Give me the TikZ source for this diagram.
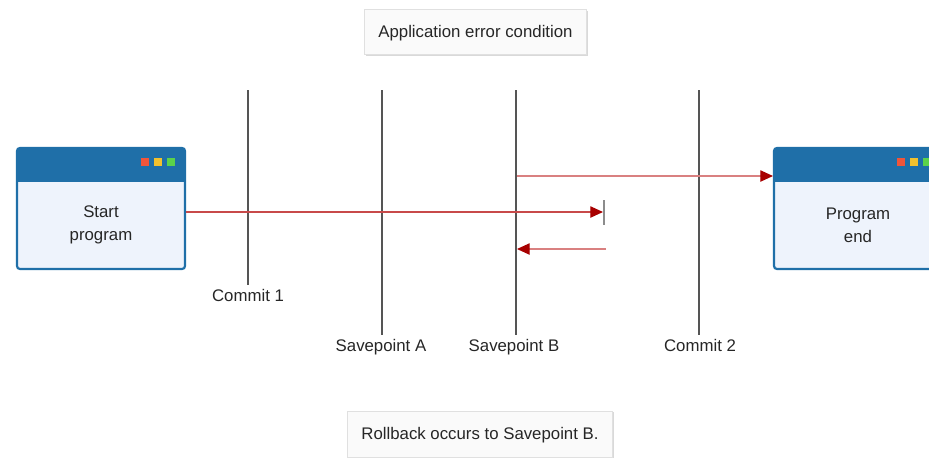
\documentclass[tikz,border=0pt]{standalone}
\usepackage{fontspec}
\setmainfont{Liberation Sans}
\usetikzlibrary{arrows.meta,shadows}
\definecolor{winblue}{HTML}{1F6FA8}
\definecolor{winbody}{HTML}{EEF3FC}
\definecolor{dotred}{HTML}{F0553A}
\definecolor{dotyellow}{HTML}{F2C12E}
\definecolor{dotgreen}{HTML}{5BD24B}
\definecolor{flowred}{HTML}{C84A4A}
\definecolor{headred}{HTML}{A80000}
\definecolor{lanegray}{HTML}{555555}
\tikzset{
  lbl/.style={font=\fontsize{12.6}{15}\selectfont, text=black!85, inner sep=0pt},
  tag/.style={lbl, text height=11.5pt, text depth=2.6pt},
  lane/.style={draw=lanegray, line width=1.35pt},
  flow/.style={draw=flowred, line width=0.9pt, -{Triangle[length=9.5pt,width=8.5pt,fill=headred,color=headred]}},
  note/.style={draw=black!12, fill=black!2, line width=0.6pt, drop shadow={shadow xshift=1.1pt, shadow yshift=-1.1pt, fill=black!25, opacity=0.6}},
  dot/.style={minimum size=5.6pt, inner sep=0pt, draw=none}
}
\begin{document}
\begin{tikzpicture}[x=0.75pt,y=-0.75pt]
\useasboundingbox (0,0) rectangle (929,458);

% application windows: blue title bar over a pale body
\newcommand{\appwin}[2]{%
  \fill[winbody, rounded corners=2.25pt] (#1,148) rectangle (#2,269);
  \fill[winblue, rounded corners=2.25pt] (#1,148) rectangle (#2,170);
  \fill[winblue] (#1,160) rectangle (#2,182);
  \draw[winblue, line width=1.65pt, rounded corners=2.25pt] (#1,148) rectangle (#2,269);
}
\appwin{17}{185}
\appwin{774}{945}
\node[dot, fill=dotred] (sr) at (145,162) {};
\node[dot, fill=dotyellow] (sy) at (158,162) {};
\node[dot, fill=dotgreen] (sg) at (171,162) {};
\node[dot, fill=dotred] (er) at (901,162) {};
\node[dot, fill=dotyellow] (ey) at (914,162) {};
\node[dot, fill=dotgreen] (eg) at (927,162) {};
\node[lbl, align=center] (start) at (101,225) {Start\\[2pt]program};
\node[lbl, align=center] (end) at (858,225) {Program\\[2pt]end};
\coordinate (startR) at (186,212);
\coordinate (endL) at (773,176);

% commit and savepoint lanes
\coordinate (c1t) at (248,90);  \coordinate (c1b) at (248,285);
\coordinate (sat) at (382,90);  \coordinate (sab) at (382,335);
\coordinate (sbt) at (516,90);  \coordinate (sbb) at (516,335);
\coordinate (c2t) at (699,90);  \coordinate (c2b) at (699,335);
\draw[lane] (c1t) -- (c1b);
\draw[lane] (sat) -- (sab);
\draw[lane] (sbt) -- (sbb);
\draw[lane] (c2t) -- (c2b);
\node[tag] (c1) at (248,296) {Commit 1};
\node[tag] (sa) at (381,346) {Savepoint A};
\node[tag] (sb) at (514,346) {Savepoint B};
\node[tag] (c2) at (700,346) {Commit 2};

% error point marker
\coordinate (errt) at (604,200);
\coordinate (errb) at (604,225);
\coordinate (err) at (603,212);
\draw[draw=black!45, line width=1.05pt] (errt) -- (errb);

% flows
\draw[flow] (startR) -- (err);
\coordinate (sbU) at (517,176);
\draw[flow, draw=flowred!70] (sbU) -- (endL);
\coordinate (rbS) at (606,249);
\coordinate (rbE) at (517,249);
\draw[flow, draw=flowred!70] (rbS) -- (rbE);

% notes
\node[note, minimum width=166.5pt, minimum height=33.75pt, tag] (top) at (475.5,32) {Application error condition};
\node[note, minimum width=198.75pt, minimum height=34.5pt, tag] (bot) at (480,434) {Rollback occurs to Savepoint B.};
\end{tikzpicture}
\end{document}
